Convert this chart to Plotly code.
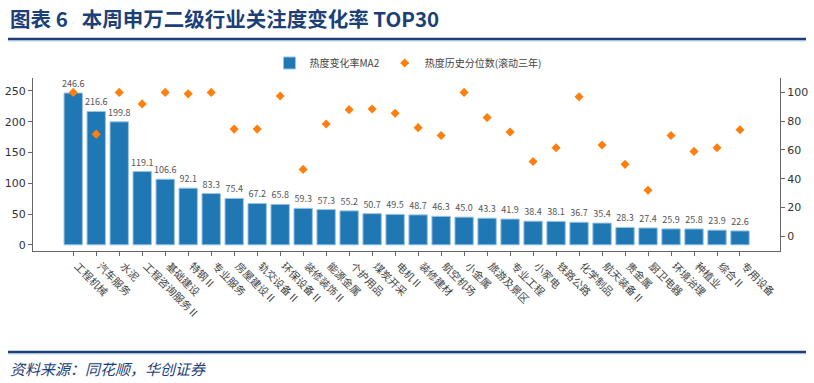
import plotly.graph_objects as go

categories = ["工程机械", "汽车服务", "水泥", "工程咨询服务Ⅱ", "基础建设", "特钢Ⅱ", "专业服务",
              "房屋建设Ⅱ", "轨交设备Ⅱ", "环保设备Ⅱ", "装修装饰Ⅱ", "能源金属", "个护用品",
              "煤炭开采", "电机Ⅱ", "装修建材", "航空机场", "小金属", "旅游及景区", "专业工程",
              "小家电", "铁路公路", "化学制品", "航天装备Ⅱ", "贵金属", "厨卫电器", "环境治理",
              "种植业", "综合Ⅱ", "专用设备"]
heat_change_ma2 = [246.6, 216.6, 199.8, 119.1, 106.6, 92.1, 83.3, 75.4, 67.2, 65.8,
                   59.3, 57.3, 55.2, 50.7, 49.5, 48.7, 46.3, 45.0, 43.3, 41.9,
                   38.4, 38.1, 36.7, 35.4, 28.3, 27.4, 25.9, 25.8, 23.9, 22.6]
heat_percentile = [100, 71, 100, 92, 100, 99, 100, 74.5, 74.5, 97.5,
                   46.5, 78, 88, 88.5, 85.5, 75.5, 70, 100, 82.5, 72.5,
                   52, 61.5, 97, 63.5, 50, 32, 70, 59, 61.5, 74]
left_ticks = [0, 50, 100, 150, 200, 250]
right_ticks = [0, 20, 40, 60, 80, 100]

W, H = 814, 383
L, R, T, B = 33, 780, 78, 251
navy = "#1c3f78"
cjk = "Noto Sans CJK SC"

def px(x):
    return (x - L) / (R - L)

def py(y):
    return (B - y) / (B - T)

idx = list(range(len(categories)))

fig = go.Figure()
fig.add_trace(go.Bar(
    x=idx, y=heat_change_ma2, name="热度变化率MA2",
    marker=dict(color="#1f77b4", line=dict(color="#9cc3e4", width=1)),
    width=0.8,
    text=[f"{v:.1f}" for v in heat_change_ma2], textposition="outside",
    textfont=dict(size=9, color="#555555", family=cjk),
    constraintext="none", cliponaxis=False,
))
fig.add_trace(go.Scatter(
    x=idx, y=heat_percentile, name="热度历史分位数(滚动三年)", yaxis="y2",
    mode="markers", marker=dict(symbol="diamond", size=7, color="#ff7f0e"),
))

fig.update_layout(
    width=W, height=H,
    margin=dict(l=L, r=W - R, t=T, b=H - B, autoexpand=False),
    paper_bgcolor="white", plot_bgcolor="white",
    font=dict(family=cjk, color="#444444"),
    bargap=0.2,
    showlegend=True,
    legend=dict(orientation="h", x=0.502, xanchor="center", y=py(63), yanchor="middle",
                font=dict(size=10, color="#444444", family=cjk), itemwidth=30),
    xaxis=dict(
        range=[-1.75, 30.74], tickmode="array", tickvals=idx, ticktext=categories,
        tickangle=45, tickfont=dict(size=10.5, color="#444444", family=cjk),
        ticklabelshift=4,
        showline=True, linecolor="#666666", linewidth=1,
        ticks="outside", ticklen=4, tickcolor="#666666",
        showgrid=False, zeroline=False, automargin=False,
    ),
    yaxis=dict(
        range=[-10, 271], tickvals=left_ticks,
        tickfont=dict(size=11, color="#333333", family="DejaVu Sans"),
        showline=True, linecolor="#666666", linewidth=1,
        ticks="outside", ticklen=4, tickcolor="#666666",
        showgrid=False, zeroline=False, automargin=False,
    ),
    yaxis2=dict(
        range=[-10.2, 110], tickvals=right_ticks, overlaying="y", side="right",
        tickfont=dict(size=11, color="#333333", family="DejaVu Sans"),
        showline=True, linecolor="#666666", linewidth=1,
        ticks="outside", ticklen=4, tickcolor="#666666",
        showgrid=False, zeroline=False, automargin=False,
    ),
)

fig.add_annotation(
    xref="paper", yref="paper", x=px(8), y=py(18), xanchor="left", yanchor="middle",
    text="<b>图表 6   本周申万二级行业关注度变化率 TOP30</b>", showarrow=False,
    font=dict(size=20.5, color=navy, family="Noto Sans CJK SC"),
)
fig.add_annotation(
    xref="paper", yref="paper", x=px(8), y=py(368), xanchor="left", yanchor="middle",
    text="<i>资料来源：同花顺，华创证券</i>", showarrow=False,
    font=dict(size=15, color=navy, family="Noto Sans CJK SC"),
)
for yy in (39, 352):
    fig.add_shape(type="line", xref="paper", yref="paper",
                  x0=px(8), x1=px(806), y0=py(yy), y1=py(yy),
                  line=dict(color=navy, width=2.5))
    fig.add_shape(type="line", xref="paper", yref="paper",
                  x0=px(8), x1=px(806), y0=py(yy + 1.8), y1=py(yy + 1.8),
                  line=dict(color="#8fb0d8", width=0.8))

fig.write_html(
    "out.html",
    config={"displayModeBar": False},
    post_script="document.body.style.margin='0';document.body.style.overflow='hidden';",
)
